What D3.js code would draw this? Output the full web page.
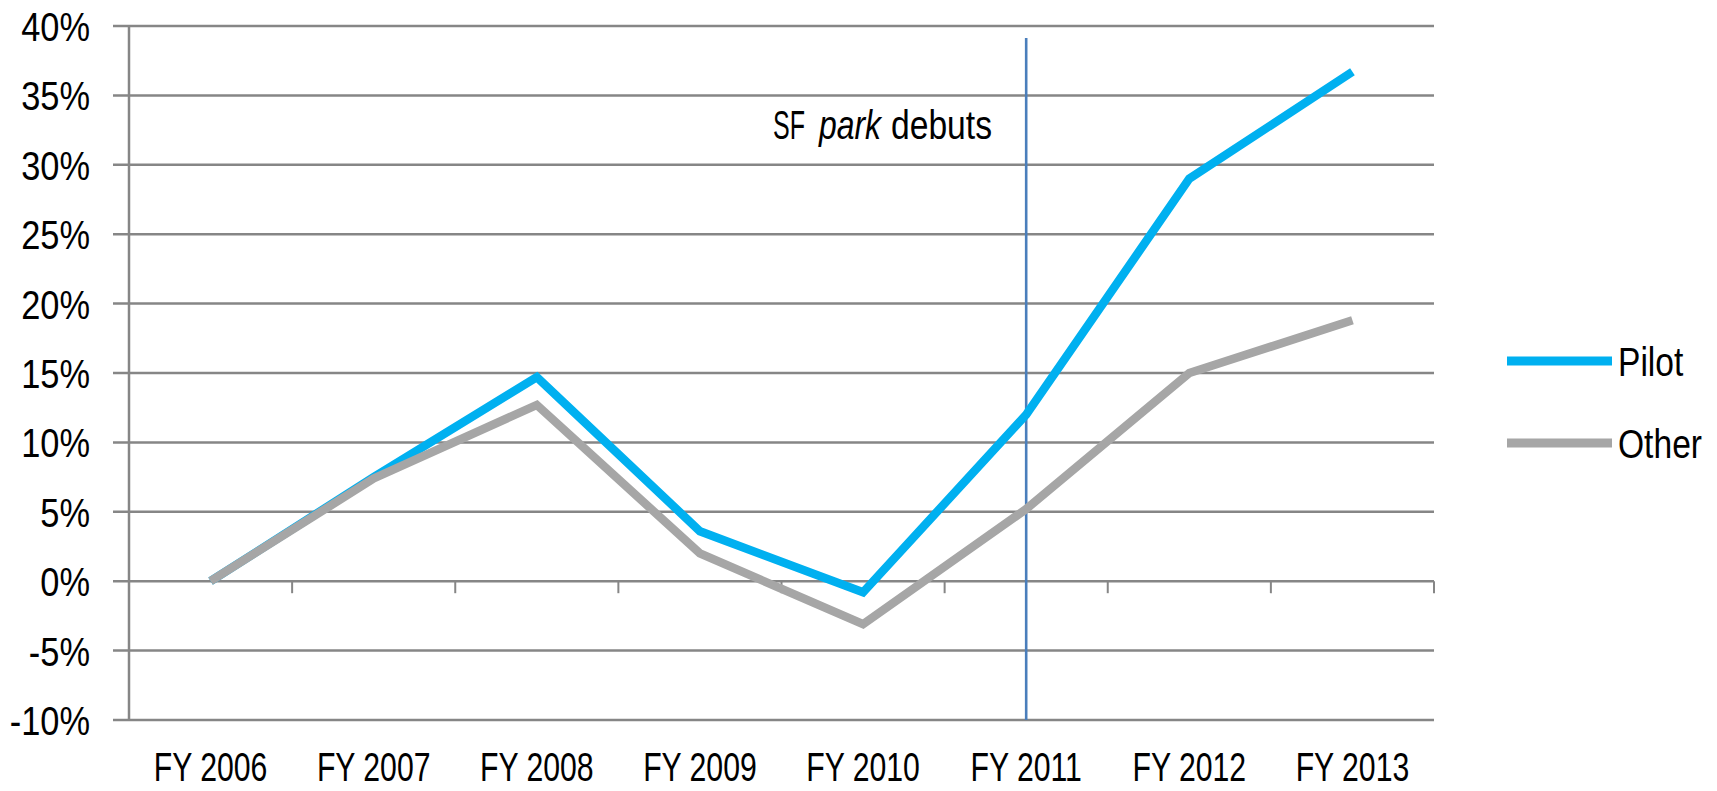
<!DOCTYPE html>
<html>
<head>
<meta charset="utf-8">
<script src="https://cdn.jsdelivr.net/npm/d3@7"></script>
<style>
  html, body { margin: 0; padding: 0; background: #fff; }
  svg { display: block; }
  text { font-family: "Liberation Sans", Arial, sans-serif; fill: #000; }
</style>
</head>
<body>
<svg id="chart" width="1717" height="791"></svg>
<script>
// ---- Data ----
const categories = ["FY 2006", "FY 2007", "FY 2008", "FY 2009", "FY 2010", "FY 2011", "FY 2012", "FY 2013"];
const pilotValues = [0, 7.5, 14.7, 3.6, -0.8, 12.0, 29.0, 36.7];
const otherValues = [0, 7.4, 12.7, 2.0, -3.1, 5.2, 15.0, 18.8];
const yTicks = [-10, -5, 0, 5, 10, 15, 20, 25, 30, 35, 40];
const seriesNames = ["Pilot", "Other"];
const seriesColors = ["#00b0f0", "#a6a6a6"];
const annotationCategory = "FY 2011";

// ---- Layout ----
const svg = d3.select("#chart");
const plotLeft = 129, plotRight = 1434, plotTop = 26, plotBottom = 720;
const gridColor = "#868686";
const fontSize = 40;

const x = d3.scaleBand().domain(categories).range([plotLeft, plotRight]).padding(0);
const y = d3.scaleLinear().domain([-10, 40]).range([plotBottom, plotTop]);
const xc = d => x(d) + x.bandwidth() / 2;

// condensed text helper: horizontal squeeze
function condText(g, tx, ty, sx, str, anchor, baseline) {
  const t = g.append("text")
    .attr("transform", `translate(${tx},${ty}) scale(${sx},1)`)
    .attr("font-size", fontSize)
    .attr("text-anchor", anchor || "start")
    .text(str);
  if (baseline) t.attr("dominant-baseline", baseline);
  return t;
}

// Horizontal gridlines + left tick stubs
svg.append("g").selectAll("line").data(yTicks).join("line")
  .attr("x1", plotLeft - 16).attr("x2", plotRight)
  .attr("y1", d => y(d)).attr("y2", d => y(d))
  .attr("stroke", gridColor).attr("stroke-width", 2.5);

// Y axis line
svg.append("line")
  .attr("x1", plotLeft).attr("x2", plotLeft)
  .attr("y1", y(40)).attr("y2", y(-10))
  .attr("stroke", gridColor).attr("stroke-width", 2.5);

// X tick marks below 0% line at category boundaries
const boundaries = categories.map(c => x(c)).concat([plotRight]);
svg.append("g").selectAll("line").data(boundaries).join("line")
  .attr("x1", d => d).attr("x2", d => d)
  .attr("y1", y(0)).attr("y2", y(0) + 12)
  .attr("stroke", gridColor).attr("stroke-width", 2);

// Y tick labels
const gy = svg.append("g");
yTicks.forEach(v => condText(gy, 90, y(v) + 1, 0.86, v + "%", "end", "central"));

// X labels
const gx = svg.append("g");
categories.forEach(c => condText(gx, xc(c), 781, 0.755, c, "middle"));

// Vertical annotation line
svg.append("line")
  .attr("x1", xc(annotationCategory)).attr("x2", xc(annotationCategory))
  .attr("y1", 38).attr("y2", y(-10))
  .attr("stroke", "#4a7ebb").attr("stroke-width", 2.6);

// Annotation text (three pieces)
const ga = svg.append("g");
ga.append("text").attr("x", 773).attr("y", 139).attr("font-size", fontSize)
  .attr("textLength", 32).attr("lengthAdjust", "spacingAndGlyphs").text("SF");
ga.append("text").attr("x", 819).attr("y", 139).attr("font-size", fontSize)
  .attr("font-style", "italic")
  .attr("textLength", 62).attr("lengthAdjust", "spacingAndGlyphs").text("park");
ga.append("text").attr("x", 891).attr("y", 139).attr("font-size", fontSize)
  .attr("textLength", 101).attr("lengthAdjust", "spacingAndGlyphs").text("debuts");

// Lines (Pilot first, Other on top)
const line = d3.line().x((d, i) => xc(categories[i])).y(d => y(d));
const seriesData = [pilotValues, otherValues];
seriesData.forEach((vals, i) => {
  svg.append("path")
    .datum(vals)
    .attr("d", line)
    .attr("fill", "none")
    .attr("stroke", seriesColors[i])
    .attr("stroke-width", 8.5)
    .attr("stroke-linejoin", "miter")
    .attr("stroke-linecap", "butt");
});

// Legend
const legendY = [361, 443];
const gl = svg.append("g");
seriesNames.forEach((name, i) => {
  gl.append("line")
    .attr("x1", 1507).attr("x2", 1612)
    .attr("y1", legendY[i]).attr("y2", legendY[i])
    .attr("stroke", seriesColors[i]).attr("stroke-width", 9);
  condText(gl, 1618, legendY[i] + 1, 0.84, name, "start", "central");
});
</script>
</body>
</html>
